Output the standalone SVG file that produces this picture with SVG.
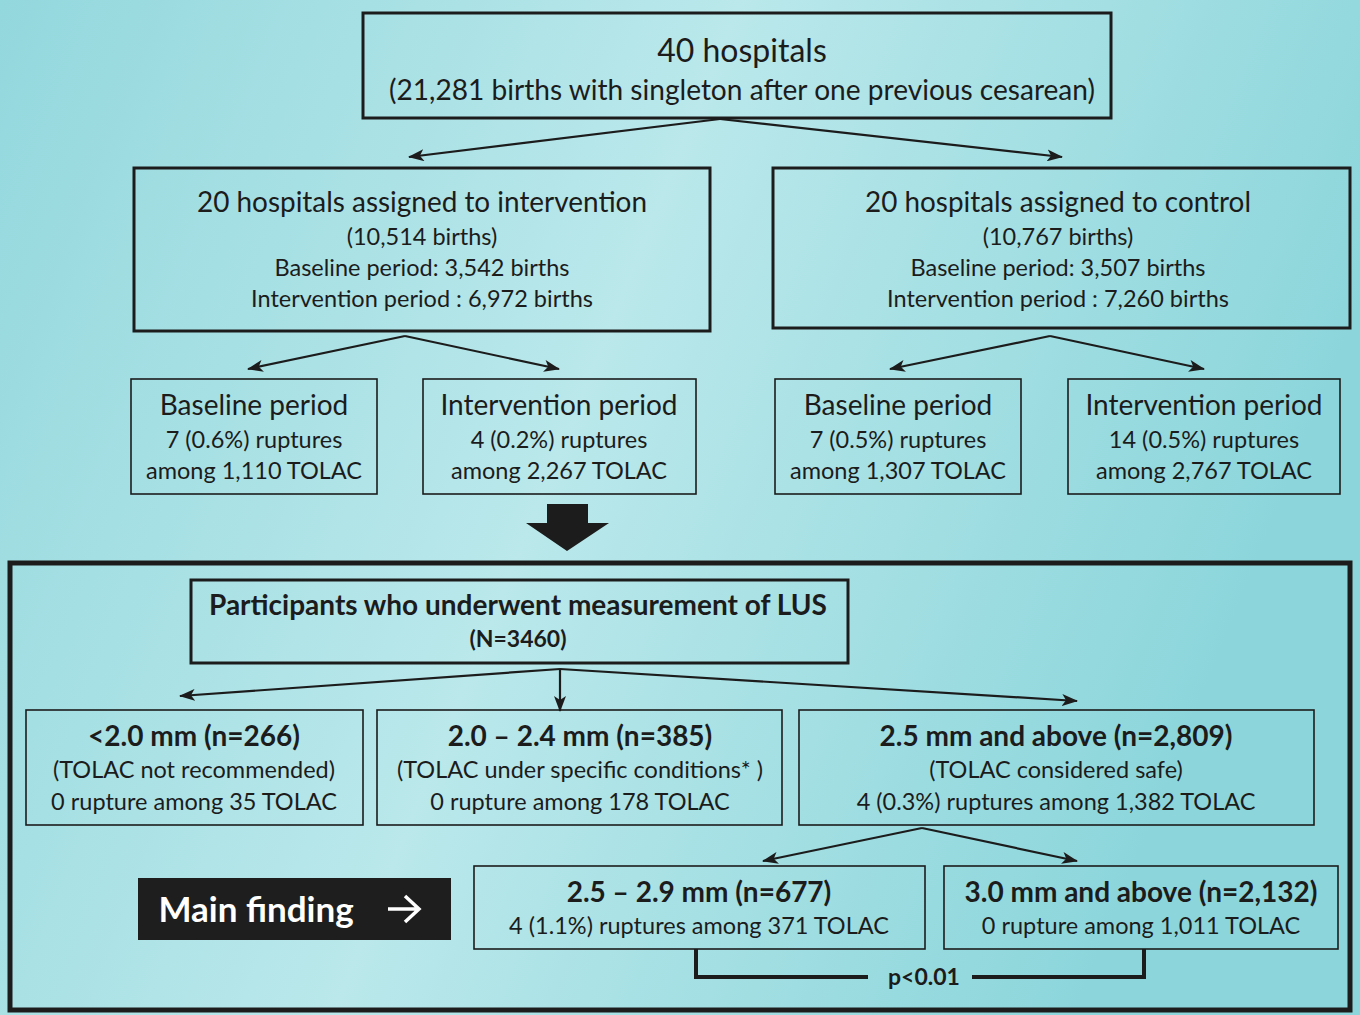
<svg xmlns="http://www.w3.org/2000/svg" width="1360" height="1015" viewBox="0 0 1360 1015">
<defs>
<linearGradient id="bg" x1="0" y1="0" x2="1" y2="0.3">
<stop offset="0" stop-color="#93d8dd"/>
<stop offset="0.5" stop-color="#bae8eb"/>
<stop offset="1" stop-color="#8cd6db"/>
</linearGradient>
<marker id="ah" viewBox="0 0 16 12" refX="15" refY="6" markerWidth="16" markerHeight="12" orient="auto" markerUnits="userSpaceOnUse">
<path d="M0,0 L16,6 L0,12 L4,6 z" fill="#1c1c1c"/>
</marker>
</defs>
<style>
text{font-family:Lato,"Open Sans","Liberation Sans",sans-serif;fill:#1c1c1c;text-anchor:middle}
.box{fill:none;stroke:#1c1c1c}
.thick{stroke-width:3}
.thin{stroke-width:1.6}
.t1{font-size:28px}
.t2{font-size:23.5px}
.b1{font-size:28px;font-weight:bold}
.b2{font-size:23px;font-weight:bold}
.conn{stroke:#1c1c1c;stroke-width:2.2;fill:none}
</style>
<rect width="1360" height="1015" fill="url(#bg)"/>

<g id="top">
<rect class="box thick" x="363" y="13" width="748" height="105"/>
<text x="742" y="62" font-size="32">40 hospitals</text>
<text class="t1" x="742" y="100" textLength="706" lengthAdjust="spacingAndGlyphs">(21,281 births with singleton after one previous cesarean)</text>
</g>

<g id="interv">
<rect class="box thick" x="134" y="168" width="576" height="163"/>
<text class="t1" x="422" y="212" textLength="450" lengthAdjust="spacingAndGlyphs">20 hospitals assigned to intervention</text>
<text class="t2" x="422" y="245">(10,514 births)</text>
<text class="t2" x="422" y="276">Baseline period: 3,542 births</text>
<text class="t2" x="422" y="307">Intervention period : 6,972 births</text>
</g>

<g id="control">
<rect class="box thick" x="773" y="168" width="577" height="160"/>
<text class="t1" x="1058" y="212" textLength="386" lengthAdjust="spacingAndGlyphs">20 hospitals assigned to control</text>
<text class="t2" x="1058" y="245">(10,767 births)</text>
<text class="t2" x="1058" y="276">Baseline period: 3,507 births</text>
<text class="t2" x="1058" y="307">Intervention period : 7,260 births</text>
</g>

<g id="ib">
<rect class="box thin" x="131" y="379" width="246" height="115"/>
<text class="t1" x="254" y="415">Baseline period</text>
<text class="t2" x="254" y="448">7 (0.6%) ruptures</text>
<text class="t2" x="254" y="479">among 1,110 TOLAC</text>
</g>
<g id="ii">
<rect class="box thin" x="423" y="379" width="273" height="115"/>
<text class="t1" x="559" y="415">Intervention period</text>
<text class="t2" x="559" y="448">4 (0.2%) ruptures</text>
<text class="t2" x="559" y="479">among 2,267 TOLAC</text>
</g>
<g id="cb">
<rect class="box thin" x="775" y="379" width="246" height="115"/>
<text class="t1" x="898" y="415">Baseline period</text>
<text class="t2" x="898" y="448">7 (0.5%) ruptures</text>
<text class="t2" x="898" y="479">among 1,307 TOLAC</text>
</g>
<g id="ci">
<rect class="box thin" x="1068" y="379" width="272" height="115"/>
<text class="t1" x="1204" y="415">Intervention period</text>
<text class="t2" x="1204" y="448">14 (0.5%) ruptures</text>
<text class="t2" x="1204" y="479">among 2,767 TOLAC</text>
</g>

<g id="lus-section">
<rect class="box" x="10" y="563" width="1340" height="447" stroke-width="5"/>
</g>

<g id="participants">
<rect class="box thick" x="191" y="580" width="657" height="83"/>
<text x="518" y="615" font-size="28" font-weight="bold">Participants who underwent measurement of LUS</text>
<text class="b2" x="518" y="647">(N=3460)</text>
</g>

<g id="lt20">
<rect class="box thin" x="26" y="710" width="337" height="115"/>
<text class="b1" x="194" y="746">&lt;2.0 mm (n=266)</text>
<text class="t2" x="194" y="778">(TOLAC not recommended)</text>
<text class="t2" x="194" y="810">0 rupture among 35 TOLAC</text>
</g>
<g id="r2024">
<rect class="box thin" x="377" y="710" width="405" height="115"/>
<text class="b1" x="580" y="746">2.0 – 2.4 mm (n=385)</text>
<text class="t2" x="580" y="778">(TOLAC under specific conditions* )</text>
<text class="t2" x="580" y="810">0 rupture among 178 TOLAC</text>
</g>
<g id="ge25">
<rect class="box thin" x="799" y="710" width="515" height="115"/>
<text class="b1" x="1056" y="746">2.5 mm and above (n=2,809)</text>
<text class="t2" x="1056" y="778">(TOLAC considered safe)</text>
<text class="t2" x="1056" y="810">4 (0.3%) ruptures among 1,382 TOLAC</text>
</g>

<g id="mainfinding">
<rect x="138" y="878" width="313" height="62" fill="#1e1e1e"/>
<text x="256" y="922" font-size="35" font-weight="bold" style="fill:#ffffff">Main finding</text>
<path d="M388,909 H418 M405,896 L419,909 L405,922" fill="none" stroke="#ffffff" stroke-width="3.5"/>
</g>

<g id="r2529">
<rect class="box thin" x="474" y="866" width="451" height="83"/>
<text class="b1" x="699" y="902">2.5 – 2.9 mm (n=677)</text>
<text class="t2" x="699" y="934">4 (1.1%) ruptures among 371 TOLAC</text>
</g>
<g id="ge30">
<rect class="box thin" x="944" y="866" width="394" height="83"/>
<text class="b1" x="1141" y="902">3.0 mm and above (n=2,132)</text>
<text class="t2" x="1141" y="934">0 rupture among 1,011 TOLAC</text>
</g>

<g id="connectors">
<path class="conn" d="M720,119 L409,157" marker-end="url(#ah)"/>
<path class="conn" d="M720,119 L1062,157" marker-end="url(#ah)"/>
<path class="conn" d="M405,336 L248,369" marker-end="url(#ah)"/>
<path class="conn" d="M405,336 L559,369" marker-end="url(#ah)"/>
<path class="conn" d="M1050,336 L890,369" marker-end="url(#ah)"/>
<path class="conn" d="M1050,336 L1204,369" marker-end="url(#ah)"/>
<path d="M547,504 H588 V523 H609 L567,551 L526,523 H547 Z" fill="#1c1c1c"/>
<path class="conn" d="M560,669 L180,696" marker-end="url(#ah)"/>
<path class="conn" d="M560,669 L560,711" marker-end="url(#ah)"/>
<path class="conn" d="M560,669 L1077,701" marker-end="url(#ah)"/>
<path class="conn" d="M922,828 L763,861" marker-end="url(#ah)"/>
<path class="conn" d="M922,828 L1077,861" marker-end="url(#ah)"/>
<path d="M696,949 V977 H868 M972,977 H1144 V949" fill="none" stroke="#1c1c1c" stroke-width="4"/>
<text class="b2" x="924" y="985">p&lt;0.01</text>
</g>
</svg>
